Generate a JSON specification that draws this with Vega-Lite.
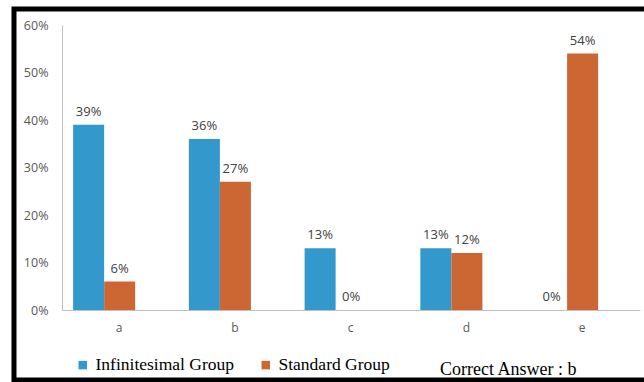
{
  "$schema": "https://vega.github.io/schema/vega-lite/v6.json",
  "width": 634,
  "height": 371,
  "autosize": {"type": "none"},
  "padding": {"left": 14, "top": 9, "right": -4, "bottom": 2},
  "background": "white",
  "config": {
    "view": {"stroke": "black", "strokeWidth": 5},
    "font": "Open Sans"
  },
  "title": {
    "text": "Correct Answer : b",
    "orient": "bottom",
    "anchor": "start",
    "frame": "group",
    "dx": 426,
    "offset": -19,
    "font": "Liberation Serif",
    "fontSize": 18,
    "fontWeight": "normal",
    "color": "black"
  },
  "data": {
    "values": [
      {"option": "a", "group": "Infinitesimal Group", "pct": 0.39},
      {"option": "a", "group": "Standard Group", "pct": 0.06},
      {"option": "b", "group": "Infinitesimal Group", "pct": 0.36},
      {"option": "b", "group": "Standard Group", "pct": 0.27},
      {"option": "c", "group": "Infinitesimal Group", "pct": 0.13},
      {"option": "c", "group": "Standard Group", "pct": 0.0},
      {"option": "d", "group": "Infinitesimal Group", "pct": 0.13},
      {"option": "d", "group": "Standard Group", "pct": 0.12},
      {"option": "e", "group": "Infinitesimal Group", "pct": 0.0},
      {"option": "e", "group": "Standard Group", "pct": 0.54}
    ]
  },
  "encoding": {
    "x": {
      "field": "option",
      "type": "nominal",
      "scale": {"range": [48, 626], "paddingInner": 0.464, "paddingOuter": 0.229, "align": 0.21},
      "axis": {
        "title": null,
        "orient": "bottom",
        "offset": -70,
        "labelAngle": 0,
        "labelOffset": 15,
        "ticks": false,
        "domainColor": "#bfbfbf",
        "domainWidth": 1,
        "labelPadding": 12,
        "labelFontSize": 12,
        "labelColor": "#595959",
        "grid": false
      }
    },
    "xOffset": {"field": "group", "type": "nominal", "sort": ["Infinitesimal Group", "Standard Group"]},
    "y": {
      "field": "pct",
      "type": "quantitative",
      "scale": {"domain": [0, 0.6], "range": [301, 16]},
      "axis": {
        "title": null,
        "format": ".0%",
        "values": [0, 0.1, 0.2, 0.3, 0.4, 0.5, 0.6],
        "offset": -48,
        "ticks": false,
        "grid": false,
        "domainColor": "#bfbfbf",
        "domainWidth": 1,
        "labelPadding": 14,
        "labelFontSize": 12.5,
        "labelColor": "#595959"
      }
    }
  },
  "layer": [
    {
      "mark": {"type": "bar"},
      "encoding": {
        "color": {
          "field": "group",
          "type": "nominal",
          "sort": ["Infinitesimal Group", "Standard Group"],
          "scale": {"range": ["#3399CC", "#CC6633"]},
          "legend": {
            "orient": "none",
            "legendX": 60,
            "legendY": 347,
            "direction": "horizontal",
            "title": null,
            "symbolType": "square",
            "symbolSize": 72,
            "symbolStrokeWidth": 0,
            "labelFont": "Liberation Serif",
            "labelFontSize": 17.5,
            "labelColor": "black",
            "labelOffset": 4,
            "columnPadding": 22
          }
        }
      }
    },
    {
      "mark": {"type": "text", "baseline": "bottom", "dy": -6, "fontSize": 13, "color": "#404040"},
      "encoding": {
        "text": {"field": "pct", "type": "quantitative", "format": ".0%"}
      }
    }
  ]
}
